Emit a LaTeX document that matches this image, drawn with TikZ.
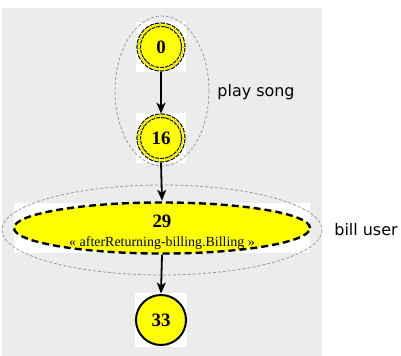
\documentclass[tikz,border=0pt]{standalone}
\usepackage{fontspec}
\setmainfont{Liberation Serif}
\newfontfamily\labelfont{DejaVu Sans}
\usetikzlibrary{arrows.meta,shapes.geometric,calc}

\definecolor{panelgray}{HTML}{ECECEC}
\definecolor{stateyellow}{HTML}{FFFF00}
\definecolor{groupgray}{HTML}{9A9A9A}

\tikzset{
  panel/.style={fill=panelgray},
  backing/.style={fill=white},
  initstate/.style={circle, minimum size=44.6bp, inner sep=0pt, fill=stateyellow,
    draw=black, line width=1.1bp, double=stateyellow, double distance=2.4bp,
    dash pattern=on 4bp off 1.2bp,
    font=\fontsize{19}{20}\selectfont\bfseries},
  aspectstate/.style={ellipse, minimum width=296bp, minimum height=51bp, inner sep=0pt,
    fill=stateyellow, draw=black, line width=2.4bp, dash pattern=on 7bp off 4bp},
  aspecttext/.style={align=center, inner sep=0pt, font=\fontsize{14}{19}\selectfont},
  finalstate/.style={circle, minimum size=50bp, inner sep=0pt, fill=stateyellow,
    draw=black, line width=2bp, font=\fontsize{19}{20}\selectfont\bfseries},
  group/.style={draw=groupgray, line width=0.8bp, dash pattern=on 3bp off 2bp},
  grouplabel/.style={font=\labelfont\fontsize{16}{19}\selectfont, inner sep=0pt},
  flow/.style={draw=black, line width=1.8bp, -{Stealth[length=11bp,width=9bp,inset=3bp]}},
}

\begin{document}
\begin{tikzpicture}[x=1bp, y=-1bp]
\useasboundingbox (0,0) rectangle (401,356);
\fill[panel] (2,8) rectangle (322,356);

% state positions
\coordinate (c0) at (161,47);
\coordinate (c16) at (161,138);
\coordinate (c29) at (162,228);
\coordinate (c33) at (161,320);

% white tiles behind the states
\fill[backing] ($(c0)+(-25,-25)$) rectangle ($(c0)+(25,25)$);
\fill[backing] ($(c16)+(-25,-25)$) rectangle ($(c16)+(25,25)$);
\fill[backing] (14,203) rectangle (310,253);
\fill[backing] ($(c33)+(-26,-27)$) rectangle ($(c33)+(26,27)$);

% group outlines
\draw[group] (162,91) ellipse [x radius=47, y radius=75];
\draw[group] (162,230) ellipse [x radius=160, y radius=45];

% states
\node[initstate] (n0) at (c0) {0};
\node[initstate] (n16) at (c16) {16};
\node[aspectstate] (n29) at (c29) {};
\node[aspecttext] (n29text) at ($(c29)+(0,4)$)
  {{\fontsize{19}{19}\selectfont\bfseries 29}\\
   « afterReturning-billing.Billing »};
\node[finalstate] (n33) at (c33) {33};

% transitions
\draw[flow] ($(n0.south)+(0,2)$) -- ($(n16.north)+(0,-1.5)$);
\draw[flow] ($(n16.south)+(0,2)$) -- ($(n29.north)+(0,-0.5)$);
\draw[flow] (n29.south) -- ($(n33.north)+(0,-0.5)$);

% group labels
\node[grouplabel] (lplay) at (256,92) {play song};
\node[grouplabel] (lbill) at (366,230) {bill user};
\end{tikzpicture}
\end{document}
